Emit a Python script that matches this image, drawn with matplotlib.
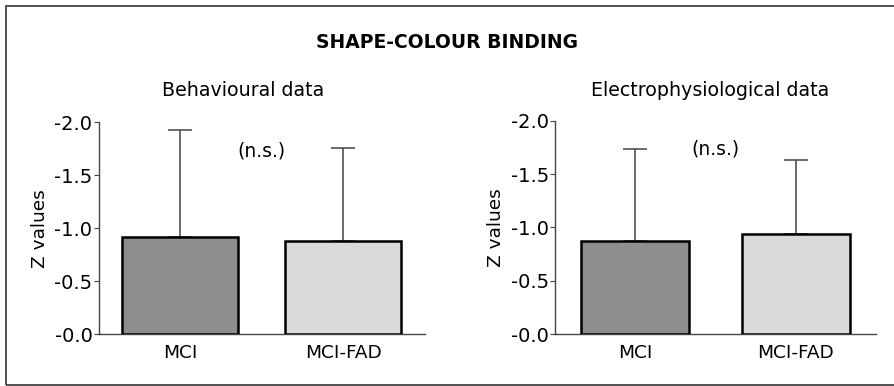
import matplotlib.pyplot as plt
from matplotlib.patches import Rectangle
from matplotlib.ticker import FuncFormatter

# groups and z-scores
groups = ["MCI", "MCI-FAD"]
behav_mean = [-0.92, -0.88]
behav_err = [1.01, 0.88]
electro_mean = [-0.87, -0.935]
electro_err = [0.86, 0.70]
bar_colours = ["#8e8e8e", "#dadada"]

plt.rcParams['font.family'] = 'DejaVu Sans'

fig = plt.figure(figsize=(8.94, 3.86), dpi=100)

# frame around the whole figure (right side runs off the edge)
fig.add_artist(Rectangle((6 / 894, 1 / 386), 1.05, 379 / 386, transform=fig.transFigure,
                         fill=False, edgecolor="#444444", lw=1.3))

fig.text(0.5, 1 - 42 / 386, "SHAPE-COLOUR BINDING", ha="center", va="center",
         fontsize=13.5, fontweight="bold")


def panel(rect, means, errs, width, subtitle, sub_x):
    ax = fig.add_axes(rect)
    x = range(len(groups))
    ax.bar(x, means, width=width, color=bar_colours, edgecolor="black", lw=1.8, zorder=3)
    ax.errorbar(x, means, yerr=[errs, [0] * len(errs)], fmt="none", ecolor="#444444",
                elinewidth=1.1, capsize=8.5, capthick=1.1, zorder=2)
    ax.set_xlim(-0.5, 1.5)
    ax.set_ylim(0, -2)
    ax.set_yticks([-2.0, -1.5, -1.0, -0.5, 0.0])
    ax.yaxis.set_major_formatter(FuncFormatter(lambda v, p: f"-{abs(v):.1f}"))
    ax.set_xticks(list(x))
    ax.set_xticklabels(groups)
    ax.tick_params(axis="x", length=0, labelsize=13.3, pad=7)
    ax.tick_params(axis="y", length=3.5, labelsize=14, pad=1, color="#444444")
    for s in ["top", "right"]:
        ax.spines[s].set_visible(False)
    for s in ["left", "bottom"]:
        ax.spines[s].set_color("#444444")
        ax.spines[s].set_linewidth(1.0)
    ax.set_ylabel("Z values", fontsize=13.3, labelpad=4)
    ax.text(0.5, -1.73, "(n.s.)", ha="center", va="center", fontsize=13.5)
    fig.text(sub_x, 1 - 90 / 386, subtitle, ha="center", va="center", fontsize=13.7)
    return ax


panel([98.7 / 894, 1 - 334 / 386, 326 / 894, 211.7 / 386], behav_mean, behav_err, 0.71,
      "Behavioural data", 243 / 894)
panel([555 / 894, 1 - 334 / 386, 321 / 894, 213.3 / 386], electro_mean, electro_err, 0.67,
      "Electrophysiological data", 710 / 894)

fig.savefig("out.png", dpi=100)
